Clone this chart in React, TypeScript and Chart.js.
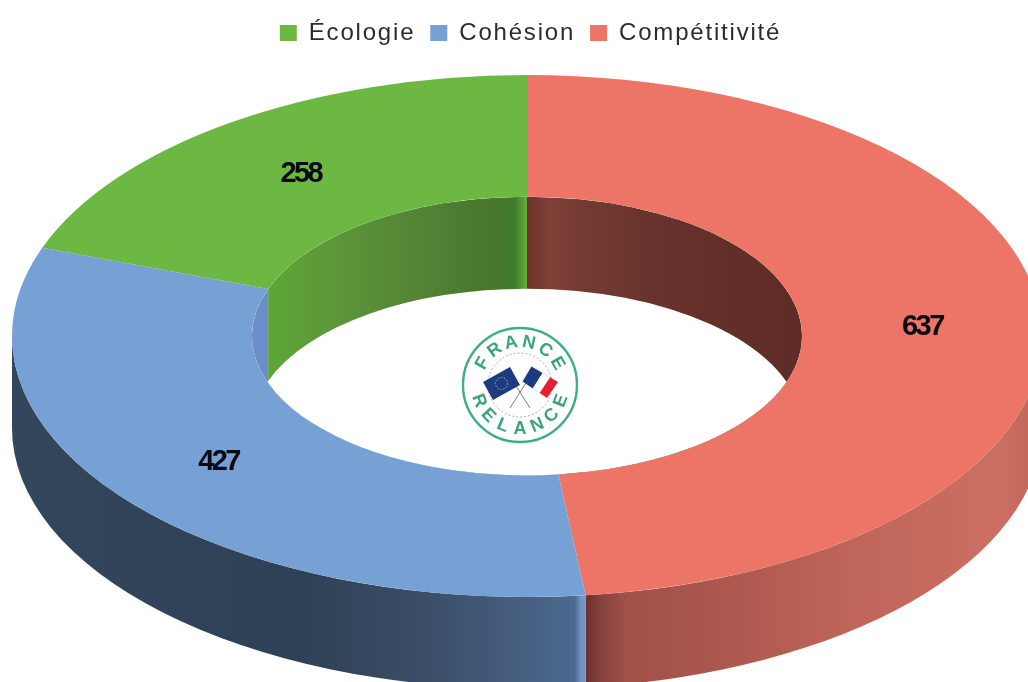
import React, { useEffect, useRef } from "react";
import { Chart, registerables } from "chart.js";

Chart.register(...registerables);

const categories = ["Compétitivité", "Cohésion", "Écologie"];
const amounts = [637, 427, 258];
const topColors = ["#ec7568", "#77a0d4", "#6cb842"];

// Shading of the extruded walls, horizontal stops [x, colour] in page pixels
const outerWallStops: [number, string][][] = [
  [[585, "#6c2f2a"], [600, "#84403a"], [625, "#9f514a"], [720, "#ab584e"], [850, "#bf6559"], [1000, "#cc6f63"], [1028, "#c4685c"]],
  [[12, "#33465c"], [300, "#2f4156"], [420, "#3a4d66"], [520, "#465e80"], [575, "#4b6a92"], [581, "#6f94c6"], [586, "#6f94c6"]],
  [[0, "#000000"], [1, "#000000"]],
];
const innerWallStops: [number, string][][] = [
  [[527, "#6e322c"], [550, "#7f4137"], [585, "#733a32"], [650, "#68332c"], [800, "#5e2b26"]],
  [[250, "#6a8ec9"], [268, "#6a8ec9"]],
  [[268, "#5ea637"], [350, "#5b9338"], [430, "#518234"], [495, "#47752c"], [515, "#417c2a"], [526, "#63ad3d"]],
];

const view = { cx: 527, cy: 336, rx: 515, ry: 261, depth: 92 };

function hGradient(ctx: CanvasRenderingContext2D, stops: [number, string][]) {
  const x0 = stops[0][0];
  const x1 = stops[stops.length - 1][0];
  const g = ctx.createLinearGradient(x0, 0, x1, 0);
  stops.forEach(([x, c]) => g.addColorStop((x - x0) / (x1 - x0), c));
  return g;
}

function drawLogo(ctx: CanvasRenderingContext2D) {
  const cx = 520, cy = 385, r = 57;
  const green = "#3fae85";
  ctx.save();
  ctx.strokeStyle = green;
  ctx.lineWidth = 2.4;
  ctx.beginPath();
  ctx.arc(cx, cy, r, 0, Math.PI * 2);
  ctx.stroke();
  ctx.strokeStyle = "#8f9a98";
  ctx.lineWidth = 0.8;
  ctx.setLineDash([2, 2]);
  ctx.beginPath();
  ctx.arc(cx, cy, 32, 0, Math.PI * 2);
  ctx.stroke();
  ctx.setLineDash([]);

  ctx.fillStyle = "#3aa47d";
  ctx.font = "bold 18px 'Liberation Sans'";
  ctx.textAlign = "center";
  ctx.textBaseline = "middle";
  const top = "FRANCE";
  const stepT = (24 * Math.PI) / 180;
  [...top].forEach((ch, i) => {
    const a = (i - (top.length - 1) / 2) * stepT;
    ctx.save();
    ctx.translate(cx + 43 * Math.sin(a), cy - 43 * Math.cos(a));
    ctx.rotate(a);
    ctx.fillText(ch, 0, 0);
    ctx.restore();
  });
  const bottom = "RELANCE";
  const stepB = (23 * Math.PI) / 180;
  [...bottom].forEach((ch, i) => {
    const a = (i - (bottom.length - 1) / 2) * stepB;
    ctx.save();
    ctx.translate(cx + 44 * Math.sin(a), cy + 44 * Math.cos(a));
    ctx.rotate(-a);
    ctx.fillText(ch, 0, 0);
    ctx.restore();
  });

  // crossed poles
  ctx.strokeStyle = "#6f7d85";
  ctx.lineWidth = 1;
  ctx.beginPath();
  ctx.moveTo(509, 375); ctx.lineTo(530, 408);
  ctx.moveTo(531, 375); ctx.lineTo(510, 408);
  ctx.stroke();

  // EU flag
  ctx.fillStyle = "#1d3c80";
  ctx.beginPath();
  ctx.moveTo(483, 382); ctx.lineTo(510, 367); ctx.lineTo(520, 385); ctx.lineTo(493, 400);
  ctx.closePath();
  ctx.fill();
  ctx.strokeStyle = "#9fb0c8";
  ctx.lineWidth = 1;
  ctx.setLineDash([1.5, 1.5]);
  ctx.beginPath();
  ctx.arc(501.5, 383.5, 6, 0, Math.PI * 2);
  ctx.stroke();
  ctx.setLineDash([]);

  // French flag: three bands along the flag's length
  const p = (t: number, s: number) => {
    const ax = 522.5, ay = 381.5;
    const ux = 546.5 - 522.5, uy = 398 - 381.5;
    const vx = 531.5 - 522.5, vy = 366.5 - 381.5;
    return [ax + ux * s + vx * t + 0, ay + uy * s + vy * t] as const;
  };
  const q = (t: number, s: number) => {
    // t runs from the hoist (upper left) to the fly (lower right), s across the flag
    const hoistTop = [531.5, 366.5], hoistBottom = [522.5, 381.5];
    const flyTop = [558, 382], flyBottom = [547, 398];
    const topX = hoistTop[0] + (flyTop[0] - hoistTop[0]) * t;
    const topY = hoistTop[1] + (flyTop[1] - hoistTop[1]) * t;
    const botX = hoistBottom[0] + (flyBottom[0] - hoistBottom[0]) * t;
    const botY = hoistBottom[1] + (flyBottom[1] - hoistBottom[1]) * t;
    return [topX + (botX - topX) * s, topY + (botY - topY) * s] as const;
  };
  void p;
  const band = (t0: number, t1: number, c: string) => {
    ctx.fillStyle = c;
    ctx.beginPath();
    ctx.moveTo(...q(t0, 0)); ctx.lineTo(...q(t1, 0)); ctx.lineTo(...q(t1, 1)); ctx.lineTo(...q(t0, 1));
    ctx.closePath();
    ctx.fill();
  };
  band(0, 0.42, "#1d3c80");
  band(0.42, 0.7, "#ffffff");
  band(0.7, 1, "#e2202f");
  ctx.strokeStyle = "#c9ced6";
  ctx.lineWidth = 0.6;
  ctx.beginPath();
  ctx.moveTo(...q(0.42, 0)); ctx.lineTo(...q(0.7, 0));
  ctx.moveTo(...q(0.42, 1)); ctx.lineTo(...q(0.7, 1));
  ctx.stroke();
  ctx.restore();
}

const donut3d = {
  id: "donut3d",
  beforeLayout(chart: any) {
    chart.ctx.letterSpacing = "1.8px";
  },
  beforeDraw(chart: any) {
    chart.ctx.letterSpacing = "1.8px";
  },
  beforeDatasetsDraw(chart: any) {
    const ctx: CanvasRenderingContext2D = chart.ctx;
    ctx.letterSpacing = "0px";
    const { cx, cy, rx, ry, depth } = view;
    const arcs = chart.getDatasetMeta(0).data;
    arcs.forEach((arc: any, i: number) => {
      const a1 = Math.max(arc.startAngle, 0);
      const a2 = Math.min(arc.endAngle, Math.PI);
      if (a2 <= a1) return;
      ctx.fillStyle = hGradient(ctx, outerWallStops[i]);
      ctx.beginPath();
      ctx.ellipse(cx, cy, rx, ry, 0, a1, a2);
      ctx.ellipse(cx, cy + depth, rx, ry, 0, a2, a1, true);
      ctx.closePath();
      ctx.fill();
    });
    const first = arcs[0];
    ctx.save();
    ctx.translate(cx, cy);
    ctx.scale(rx / first.outerRadius, ry / first.outerRadius);
    ctx.translate(-first.x, -first.y);
  },
  afterDatasetsDraw(chart: any) {
    const ctx: CanvasRenderingContext2D = chart.ctx;
    ctx.restore();
    const { cx, cy, rx, ry, depth } = view;
    const arcs = chart.getDatasetMeta(0).data;
    const k = arcs[0].innerRadius / arcs[0].outerRadius;
    const hx = rx * k, hy = ry * k;

    ctx.save();
    ctx.beginPath();
    ctx.ellipse(cx, cy, hx, hy, 0, 0, Math.PI * 2);
    ctx.clip();
    arcs.forEach((arc: any, i: number) => {
      ctx.fillStyle = hGradient(ctx, innerWallStops[i]);
      ctx.beginPath();
      ctx.ellipse(cx, cy, hx, hy, 0, arc.startAngle, arc.endAngle);
      ctx.ellipse(cx, cy + depth, hx, hy, 0, arc.endAngle, arc.startAngle, true);
      ctx.closePath();
      ctx.fill();
    });
    ctx.restore();

    drawLogo(ctx);

    ctx.save();
    ctx.letterSpacing = "-2.6px";
    ctx.font = "bold 29px 'Liberation Sans'";
    ctx.fillStyle = "#0a0a14";
    ctx.textAlign = "center";
    ctx.textBaseline = "middle";
    arcs.forEach((arc: any, i: number) => {
      const mid = (arc.startAngle + arc.endAngle) / 2;
      const f = (1 + k) / 2;
      ctx.fillText(String(amounts[i]), cx + rx * f * Math.cos(mid) + 1, cy + ry * f * Math.sin(mid) + 2);
    });
    ctx.restore();
  },
};

export default function App() {
  const ref = useRef<HTMLCanvasElement>(null);
  useEffect(() => {
    const chart = new Chart(ref.current!, {
      type: "doughnut",
      data: {
        labels: categories,
        datasets: [{ data: amounts, backgroundColor: topColors, borderWidth: 0, clip: false } as any],
      },
      options: {
        responsive: false,
        animation: false,
        cutout: "53.4%",
        layout: { padding: { top: 6, left: 33 } },
        plugins: {
          tooltip: { enabled: false },
          legend: {
            position: "top",
            reverse: true,
            labels: {
              boxWidth: 17,
              boxHeight: 16,
              padding: 15,
              color: "#2b2b33",
              font: { family: "'Liberation Sans'", size: 24 },
            },
          },
        },
      },
      plugins: [donut3d as any],
    });
    return () => chart.destroy();
  }, []);
  return (
    <canvas
      ref={ref}
      width={1028}
      height={682}
      style={{ position: "absolute", left: 0, top: 0, display: "block" }}
    />
  );
}
